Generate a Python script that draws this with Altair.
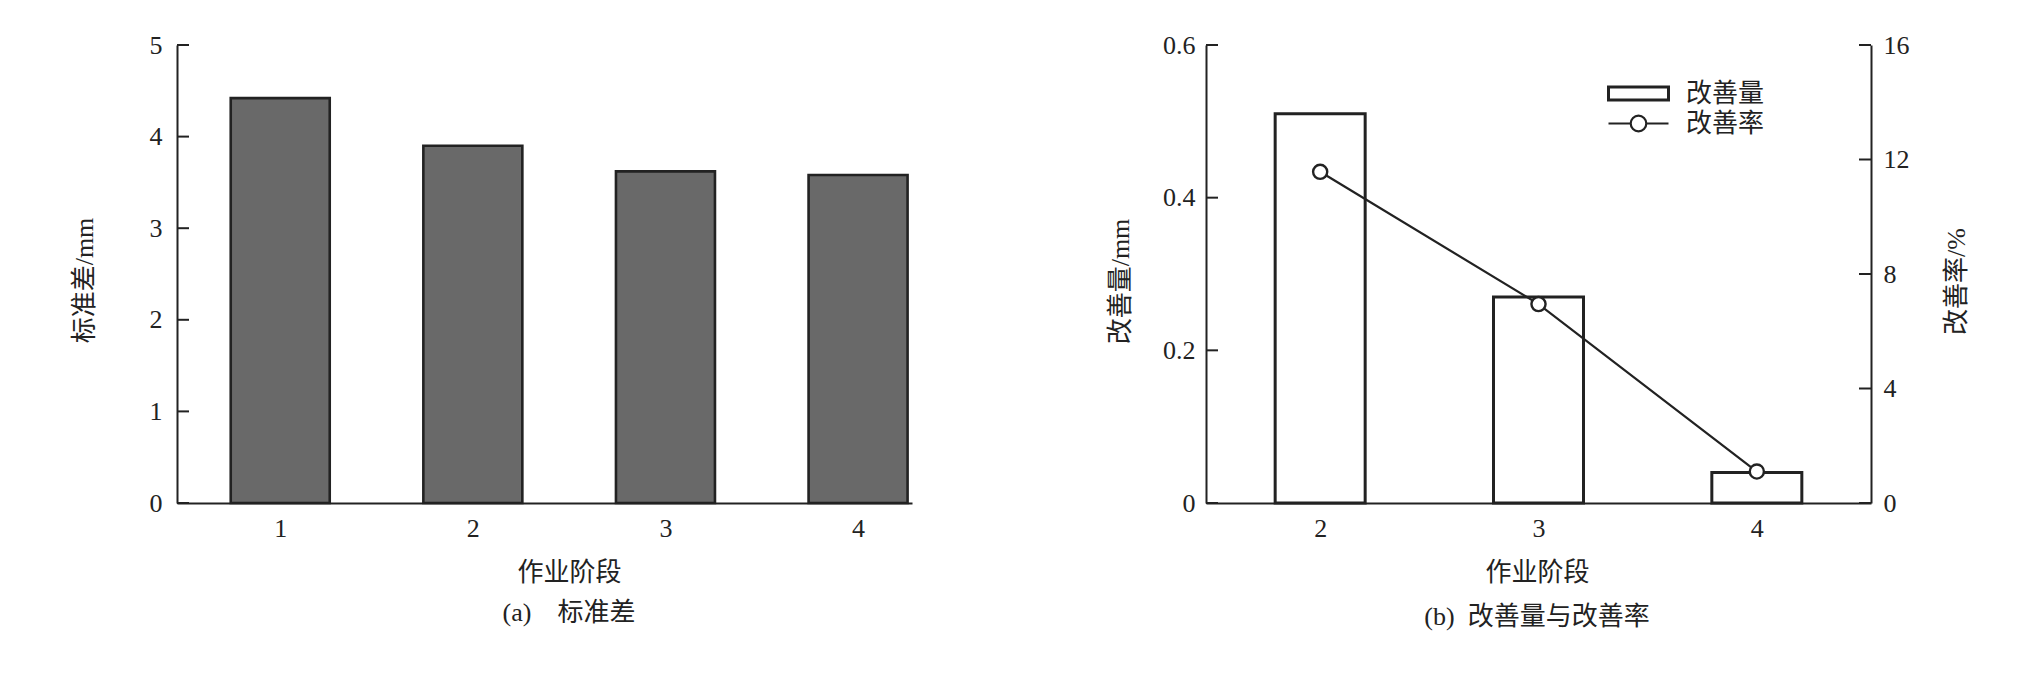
import altair as alt
import pandas as pd

# ---- data ----
stage_a = [1, 2, 3, 4]
std_mm = [4.42, 3.90, 3.62, 3.58]

stage_b = [2, 3, 4]
improve_mm = [0.51, 0.27, 0.04]
improve_pct = [11.57, 6.95, 1.10]

ticks_a = [0, 1, 2, 3, 4, 5]
ticks_b_left = [0, 0.2, 0.4, 0.6]
ticks_b_right = [0, 4, 8, 12, 16]

x_title = "作业阶段"
ya_title = "标准差/mm"
yb_title = "改善量/mm"
yb2_title = "改善率/%"
cap_a = "(a)\u2002\u2002标准差"
cap_b = "(b)\u2002改善量与改善率"
legend_items = ["改善量", "改善率"]

# ---- styling ----
FONT = "Liberation Serif, Noto Sans CJK SC"
INK = "#222222"
H = 458
WA = 735
WB = 665
FS = 26
RECT_PATH = "M-1,-0.22H1V0.22H-1Z"
CIRC_PATH = ("M-1,0H-0.26M0.26,0H1M-0.26,0A0.26,0.26 0 1,0 0.26,0"
             "A0.26,0.26 0 1,0 -0.26,0Z")

# ================= panel (a) =================
df_a = pd.DataFrame({"stage": stage_a, "std": std_mm})
df_ta = pd.DataFrame({"std": ticks_a})

xa = alt.X(
    "stage:Q",
    scale=alt.Scale(domain=[0.49, 4.254], nice=False, zero=False),
    axis=alt.Axis(values=stage_a, format="d", ticks=False, tickSize=0,
                  labelPadding=12, labelFlush=False, title=x_title,
                  titleX=392, titleY=69, titleBaseline="middle",
                  titleAlign="center"),
)
ya_scale = alt.Scale(domain=[0, 5], nice=False)
ya_axis = alt.Axis(values=ticks_a, format="d", ticks=False, tickSize=0,
                   labelPadding=15, title=ya_title, titleX=-93,
                   titleY=H / 2 + 6, titleAngle=270, titleBaseline="middle",
                   titleAlign="center")
ya = alt.Y("std:Q", scale=ya_scale, axis=ya_axis)

bars_a = alt.Chart(df_a).mark_bar(
    size=99, fill="#696969", stroke=INK, strokeWidth=2.6
).encode(x=xa, y=ya)

ticks_la = alt.Chart(df_ta).mark_rule(color=INK, strokeWidth=2).encode(
    y=ya, x=alt.value(0), x2=alt.value(12),
)

caption_a = alt.Chart(pd.DataFrame({"t": [cap_a]})).mark_text(
    font=FONT, fontSize=FS, color=INK, align="center", baseline="middle"
).encode(text="t:N", x=alt.value(392), y=alt.value(568))

panel_a = alt.layer(bars_a, ticks_la, caption_a).properties(width=WA, height=H)

# ================= panel (b) =================
df_b = pd.DataFrame({
    "stage": stage_b, "mm": improve_mm, "pct": improve_pct,
    "s1": [legend_items[0]] * len(stage_b),
    "s2": [legend_items[1]] * len(stage_b),
})
df_tbl = pd.DataFrame({"mm": ticks_b_left})
df_tbr = pd.DataFrame({"pct": ticks_b_right})

xb = alt.X(
    "stage:Q",
    scale=alt.Scale(domain=[1.5, 4.5], nice=False, zero=False),
    axis=alt.Axis(values=stage_b, format="d", ticks=False, tickSize=0,
                  labelPadding=12, labelFlush=False, title=x_title,
                  titleX=331, titleY=69, titleBaseline="middle",
                  titleAlign="center"),
)
yb_scale = alt.Scale(domain=[0, 0.6], nice=False)
yb = alt.Y(
    "mm:Q", scale=yb_scale,
    axis=alt.Axis(values=ticks_b_left, format="~g", ticks=False, tickSize=0,
                  labelPadding=11, title=yb_title, titleX=-86,
                  titleY=H / 2 + 7, titleAngle=270, titleBaseline="middle",
                  titleAlign="center"),
)
yb2_scale = alt.Scale(domain=[0, 16], nice=False)
yb2 = alt.Y(
    "pct:Q", scale=yb2_scale,
    axis=alt.Axis(orient="right", values=ticks_b_right, format="d",
                  ticks=False, tickSize=0, labelPadding=12, title=yb2_title,
                  titleX=85, titleY=H / 2 + 7, titleAngle=270,
                  titleBaseline="middle", titleAlign="center"),
)

bars_b = alt.Chart(df_b).mark_bar(size=90, stroke=INK, strokeWidth=3).encode(
    x=xb, y=yb,
    fill=alt.Fill("s1:N", scale=alt.Scale(domain=[legend_items[0]], range=["white"]),
                  legend=alt.Legend(orient="none", legendX=401, legendY=17,
                                    title=None, padding=0,
                                    symbolType=RECT_PATH, symbolSize=3600,
                                    symbolStrokeColor=INK, symbolStrokeWidth=3,
                                    symbolFillColor="white",
                                    labelFont=FONT, labelFontSize=FS,
                                    labelColor=INK, labelOffset=16)),
)
ticks_lb = alt.Chart(df_tbl).mark_rule(color=INK, strokeWidth=2).encode(
    y=yb, x=alt.value(0), x2=alt.value(12),
)

stroke_enc = alt.Stroke(
    "s2:N", scale=alt.Scale(domain=[legend_items[1]], range=[INK]),
    legend=alt.Legend(orient="none", legendX=401, legendY=47, title=None,
                      padding=0, symbolType=CIRC_PATH, symbolSize=3600,
                      symbolStrokeColor=INK, symbolStrokeWidth=2.2,
                      symbolFillColor="white", labelFont=FONT,
                      labelFontSize=FS, labelColor=INK, labelOffset=16),
)
line_b = alt.Chart(df_b).mark_line(strokeWidth=2.2).encode(
    x=xb, y=yb2, stroke=stroke_enc
)
pts_b = alt.Chart(df_b).mark_point(
    shape="circle", size=200, filled=False, fill="white", strokeWidth=2.4,
    opacity=1
).encode(x=xb, y=yb2, stroke=stroke_enc)
ticks_rb = alt.Chart(df_tbr).mark_rule(color=INK, strokeWidth=2).encode(
    y=yb2, x=alt.value(WB - 12), x2=alt.value(WB),
)

caption_b = alt.Chart(pd.DataFrame({"t": [cap_b]})).mark_text(
    font=FONT, fontSize=FS, color=INK, align="center", baseline="middle"
).encode(text="t:N", x=alt.value(331), y=alt.value(572))

left_b = alt.layer(bars_b, ticks_lb)
right_b = alt.layer(line_b, pts_b, ticks_rb)
panel_b = alt.layer(left_b, right_b, caption_b).resolve_scale(
    y="independent"
).properties(width=WB, height=H)

chart = alt.hconcat(panel_a, panel_b, spacing=195).resolve_legend(
    fill="independent", stroke="independent"
).properties(
    padding={"left": 63, "top": 24, "right": 5, "bottom": 5},
    background="white",
).configure_view(stroke=None).configure_axis(
    labelFont=FONT, titleFont=FONT, labelFontSize=FS, titleFontSize=FS,
    labelColor=INK, titleColor=INK, titleFontWeight="normal",
    domainColor=INK, domainWidth=2, grid=False,
)

chart.save("out.html", embed_options={"renderer": "svg", "actions": False})
